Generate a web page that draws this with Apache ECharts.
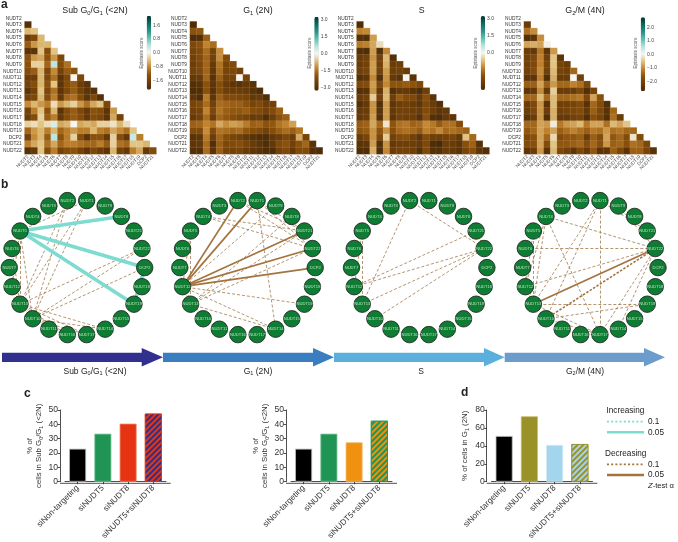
<!DOCTYPE html>
<html><head><meta charset="utf-8">
<style>html,body{margin:0;padding:0;background:#fff}#c{width:678px;height:542px}</style>
<script src="https://cdn.jsdelivr.net/npm/echarts@6/dist/echarts.min.js"></script>
</head><body><div id="c"></div>
<script>
var rowLabels=['NUDT2','NUDT3','NUDT4','NUDT5','NUDT6','NUDT7','NUDT8','NUDT9','NUDT10','NUDT11','NUDT12','NUDT13','NUDT14','NUDT15','NUDT16','NUDT17','NUDT18','NUDT19','DCP2','NUDT21','NUDT22'];
var colLabels=['NUDT2','NUDT3','NUDT4','NUDT5','NUDT6','NUDT7','NUDT8','NUDT9','NUDT10','NUDT11','NUDT12','NUDT13','NUDT14','NUDT15','NUDT16','NUDT17','NUDT18','NUDT19','DCP2','NUDT21'];
var heatSub=[[],
[-2.0],
[-.5,-.4],
[-1.7,-1.5,-.5],
[-1.2,-.7,-.5,-.5],
[-1.9,-1.9,-.4,-1.4,-.4],
[-1.3,-.7,-.6,-1.3,-.7,-1.5],
[-1.3,-.3,-.3,-1.1,.4,-1.4,-1.0],
[-1.4,-1.2,-.5,-1.5,-.8,-1.6,-1.2,-1.3],
[-1.7,-1.7,-.5,-1.5,-1.0,-1.9,-1.5,0,-1.5],
[-1.6,-1.4,-.5,-1.3,-.4,-1.9,-1.4,-1.2,-1.7,-1.9],
[-1.9,-1.6,-.4,-1.5,-1.0,-1.9,-1.5,-1.2,-1.6,-1.9,-2.0],
[-1.6,-1.5,-.5,-1.4,-.9,-1.8,-1.1,-1.0,-1.4,-1.9,-1.5,-2.0],
[-.8,-.5,-.7,-.9,-.2,-.7,-.5,-.3,-.7,-1.0,-.6,-.4,-1.5],
[-1.6,-.9,-.4,-1.3,-.5,-1.9,-1.4,-1.2,-1.5,-1.8,-1.3,-1.4,-1.9,-.7],
[-1.7,-1.4,-.3,-1.2,-.9,-1.8,-1.4,-1.2,-1.4,-1.8,-1.4,-1.5,-1.9,-.6,-1.6],
[-.3,-.2,-.4,-.2,.2,-.6,-.5,0,-.6,-.5,-.6,-.3,-.3,-.15,-.5,-.2],
[-1.1,-.7,-.5,-.9,-.5,-1.1,-.9,-.7,-.9,-.9,-.5,-.9,-1.0,-.6,-.8,-1.0,-.4],
[-1.6,-.8,-.5,-1.2,.4,-1.3,-.9,-.3,-1.4,-1.9,-1.3,-1.3,-1.8,-.3,-1.4,-1.8,.3,-.9],
[-.9,-.6,-.4,-1.0,-.6,-1.1,-.9,-.9,-1.0,-1.1,-1.1,-.9,-1.2,-.3,-1.0,-1.1,-.4,-.4,-.5],
[-2.0,-1.8,-.4,-1.4,-.9,-1.6,-1.4,-1.3,-1.6,-1.9,-1.5,-1.7,-1.9,-.5,-1.6,-1.8,-.9,-.6,-1.8,-1.4]];
var heatG1=[[],
[-3.2],
[-2.0,-1.9],
[-3.2,-3.1,-1.8],
[-2.3,-2.0,-1.3,-1.6],
[-2.4,-2.2,-1.6,-2.4,-1.2],
[-2.5,-2.2,-1.7,-2.5,-1.2,-2.2],
[-2.6,-2.3,-1.7,-2.7,-1.5,-2.4,-2.2],
[-2.5,-2.3,-1.7,-2.8,-1.6,-2.4,-2.3,-2.5],
[-2.8,-2.7,-1.7,-3.0,-1.8,-2.5,-2.4,0,-2.4],
[-3.1,-3.0,-2.0,-2.9,-2.1,-2.7,-2.9,-3.0,-2.8,-3.0],
[-3.2,-3.1,-2.0,-3.0,-2.1,-2.6,-2.6,-2.6,-2.7,-3.0,-3.2],
[-2.9,-3.2,-1.4,-2.9,-1.8,-2.2,-2.2,-2.3,-2.4,-2.8,-2.7,-3.1],
[-2.4,-2.2,-1.6,-2.5,-1.6,-1.7,-1.8,-1.8,-2.0,-2.4,-2.2,-2.6,-2.5],
[-2.5,-2.4,-1.3,-2.3,-1.5,-1.8,-1.9,-1.9,-1.8,-2.1,-2.2,-2.5,-2.2,-1.8],
[-2.7,-2.5,-1.6,-2.6,-1.7,-1.9,-2.1,-2.3,-2.4,-2.7,-2.6,-3.1,-2.6,-2.0,-1.8],
[-1.8,-1.7,-1.3,-1.5,-.9,-1.2,-1.0,-1.1,-1.4,-1.8,-1.7,-2.0,-1.9,-1.5,-1.3,-1.0],
[-2.2,-2.2,-1.2,-2.2,-1.5,-1.6,-1.7,-1.6,-1.9,-2.1,-2.2,-2.5,-2.1,-1.8,-1.6,-1.8,-1.5],
[-3.0,-2.9,-1.4,-2.6,-1.7,-2.1,-2.4,-2.5,-2.8,-3.0,-3.1,-3.2,-2.8,-2.6,-2.3,-2.6,-.9,-2.4],
[-2.9,-2.8,-1.6,-3.1,-1.8,-2.3,-2.2,-2.1,-2.4,-2.7,-2.9,-3.2,-2.8,-2.2,-2.0,-2.5,-2.0,-1.7,-3.0],
[-3.1,-3.1,-1.6,-3.0,-1.8,-2.4,-2.5,-2.4,-2.7,-2.9,-3.0,-3.2,-3.2,-2.5,-2.3,-2.8,-2.2,-2.2,-3.1,-3.2]];
var heatS=[[],
[-3.1],
[-1.3,-1.2],
[-3.0,-3.0,-1.0],
[-1.4,-1.3,-.9,-.3],
[-3.0,-3.1,-1.0,-3.0,-1.2],
[-2.6,-2.4,-1.1,-2.4,-.7,-3.0],
[-2.6,-2.4,-1.0,-2.4,-.8,-2.6,-2.5],
[-2.5,-2.3,-1.0,-2.4,-1.0,-2.5,-2.4,-2.6],
[-3.0,-2.8,-1.2,-3.0,-1.1,-2.7,-2.9,0,-2.9],
[-2.2,-2.1,-1.0,-2.2,-1.2,-1.9,-1.9,-1.8,-1.9,-2.2],
[-3.0,-2.9,-1.1,-2.7,-.8,-3.0,-2.7,-2.7,-2.9,-3.1,-2.5],
[-2.6,-2.4,-.5,-2.4,-.7,-2.5,-1.8,-2.1,-2.2,-2.7,-2.0,-2.9],
[-3.0,-2.7,-1.1,-3.0,-1.0,-2.8,-2.5,-2.4,-2.6,-2.8,-2.2,-2.6,-3.0],
[-2.7,-2.6,-1.1,-2.9,-1.0,-2.7,-2.4,-2.4,-2.5,-2.6,-2.1,-2.5,-2.8,-2.7],
[-2.7,-2.5,-1.0,-3.0,-1.0,-2.8,-2.4,-2.5,-2.5,-2.9,-2.0,-3.0,-3.1,-2.7,-2.8],
[-1.8,-1.7,-.9,-1.6,-.2,-1.9,-1.5,-1.4,-1.7,-1.6,-1.2,-1.4,-1.8,-1.5,-1.5,-2.1],
[-1.9,-1.8,-1.1,-1.9,-1.1,-2.0,-1.6,-1.5,-1.6,-1.8,-1.3,-1.5,-1.2,-1.6,-1.5,-1.6,-1.7],
[-2.6,-2.3,-1.1,-2.2,-.5,-2.4,-2.1,-2.0,-2.4,-2.8,-2.1,-2.5,-2.5,-2.4,-2.3,-2.7,-.6,-1.6],
[-2.9,-2.8,-1.0,-3.0,-1.1,-2.7,-2.5,-2.5,-2.5,-2.7,-2.2,-3.1,-3.2,-2.5,-2.6,-2.8,-2.0,-1.7,-2.9],
[-3.1,-3.1,-.8,-3.1,-1.2,-2.6,-2.4,-2.4,-2.5,-3.0,-2.2,-3.0,-3.0,-2.6,-2.7,-2.9,-2.3,-2.0,-2.8,-3.0]];
var heatG2=[[],
[-2.2],
[-1.3,-1.0],
[-2.6,-2.4,-1.0],
[-.8,-.7,-.8,-.05],
[-2.2,-2.3,-1.2,-2.4,-.9],
[-2.1,-1.9,-1.1,-2.1,-.5,-2.4],
[-2.1,-1.9,-1.1,-2.0,-.5,-2.0,-2.2],
[-2.1,-1.8,-1.0,-2.1,-.6,-2.0,-2.1,-1.4],
[-2.4,-2.4,-1.1,-2.6,-.7,-2.2,-2.2,0,-2.1],
[-1.5,-1.5,-.8,-1.5,-.9,-1.4,-1.4,-1.1,-1.3,-1.9],
[-2.4,-2.3,-1.0,-2.3,-.4,-2.2,-2.2,-2.2,-1.9,-2.6,-2.0],
[-1.4,-1.4,-.6,-1.4,-.6,-1.4,-1.4,-1.3,-1.2,-1.9,-.8,-1.7],
[-2.2,-1.9,-.9,-2.5,-.6,-2.1,-2.1,-2.0,-1.8,-2.5,-1.4,-1.8,-2.6],
[-2.2,-1.9,-.9,-2.2,-.7,-2.1,-2.0,-1.9,-1.8,-2.3,-1.5,-1.9,-2.5,-1.4],
[-2.5,-2.2,-.9,-2.6,-.7,-2.3,-2.3,-2.1,-2.0,-2.6,-1.7,-2.0,-2.6,-1.3,-2.2],
[-1.4,-1.4,-.8,-.9,-.1,-1.2,-.9,-.8,-.6,-1.2,-.8,-.8,-1.3,-.6,-.8,-.5],
[-1.6,-1.4,-.8,-1.1,-.8,-1.5,-1.3,-1.1,-1.3,-1.5,-1.2,-1.3,-.9,-1.3,-1.2,-1.4,-1.4],
[-1.9,-1.7,-.8,-1.4,-.3,-1.8,-1.6,-1.6,-1.5,-2.2,-1.5,-1.8,-.8,-1.6,-1.4,-1.8,-.2,-1.8],
[-1.8,-1.7,-.8,-1.8,-.5,-1.6,-1.6,-1.5,-1.4,-1.8,-1.4,-1.7,-.9,-1.5,-1.4,-1.7,-1.3,-1.4,-1.9],
[-2.4,-2.2,-.9,-2.5,-.6,-1.9,-2.1,-2.4,-1.9,-2.3,-1.6,-2.5,-2.4,-1.5,-1.9,-2.5,-1.5,-1.5,-2.0,-2.5]];
var scaleLimits=[2.15,3.3,3.2,2.75];
var scaleTicks=[[1.6,0.8,0,-0.8,-1.6],[3,1.5,0,-1.5,-3],[3,1.5,0],[2,1,0,-1,-2]];
var networkNodes=['DCP2','NUDT18','NUDT19','NUDT15','NUDT14','NUDT17','NUDT16','NUDT11','NUDT10','NUDT13','NUDT12','NUDT7','NUDT6','NUDT5','NUDT4','NUDT3','NUDT2','NUDT1','NUDT9','NUDT8','NUDT21','NUDT22'];
var subSolid=[['NUDT5','NUDT8'],['NUDT5','DCP2'],['NUDT5','NUDT19'],['DCP2','NUDT19']];
var subDashed=[['NUDT5','NUDT12'],['NUDT5','NUDT13'],['NUDT5','NUDT10'],['NUDT6','NUDT13'],['NUDT7','NUDT13'],['NUDT12','NUDT13'],['NUDT13','NUDT10'],['NUDT2','NUDT13'],['NUDT2','NUDT10'],['NUDT1','NUDT13'],['NUDT1','NUDT10'],['NUDT5','NUDT1'],['NUDT22','NUDT13'],['NUDT22','NUDT10'],['DCP2','NUDT10'],['NUDT13','NUDT14'],['NUDT13','NUDT17'],['NUDT13','NUDT16'],['NUDT13','NUDT11'],['NUDT10','NUDT14'],['NUDT10','NUDT17'],['NUDT10','NUDT16'],['NUDT10','NUDT11'],['NUDT11','NUDT16'],['NUDT8','NUDT21'],['NUDT14','NUDT15']];
var g1Solid=[['NUDT12','NUDT2'],['NUDT12','NUDT1'],['NUDT12','NUDT21'],['NUDT12','NUDT22'],['NUDT12','DCP2']];
var g1Dashed=[['NUDT5','NUDT12'],['NUDT5','NUDT13'],['NUDT4','NUDT21'],['NUDT4','NUDT22'],['NUDT3','NUDT4'],['NUDT2','NUDT21'],['NUDT1','NUDT21'],['NUDT1','NUDT14'],['NUDT9','NUDT12'],['NUDT8','NUDT13'],['NUDT2','NUDT22'],['NUDT12','NUDT14'],['NUDT13','NUDT14'],['NUDT12','NUDT10'],['NUDT13','NUDT10'],['NUDT12','NUDT13'],['NUDT10','NUDT11'],['NUDT7','NUDT12'],['NUDT14','NUDT17'],['NUDT13','NUDT22'],['NUDT12','NUDT19'],['NUDT1','NUDT22'],['NUDT13','NUDT21'],['NUDT11','NUDT16']];
var sSolid=[];
var sDashed=[['NUDT2','NUDT13'],['NUDT5','NUDT12'],['NUDT5','NUDT13'],['NUDT7','NUDT12'],['NUDT12','NUDT13'],['NUDT12','NUDT21'],['NUDT12','NUDT22'],['NUDT13','NUDT22'],['NUDT10','NUDT22'],['NUDT21','NUDT22'],['NUDT2','NUDT22'],['NUDT10','NUDT11'],['NUDT11','NUDT16'],['NUDT16','NUDT17'],['NUDT13','NUDT10']];
var g2Solid=[['NUDT13','NUDT22']];
var g2Dotted=[['NUDT10','NUDT22']];
var g2Dashed=[['NUDT4','NUDT22'],['NUDT6','NUDT22'],['NUDT12','NUDT22'],['NUDT13','NUDT1'],['NUDT10','NUDT1'],['NUDT1','NUDT17'],['NUDT4','NUDT17'],['NUDT4','NUDT13'],['NUDT4','NUDT12'],['NUDT5','NUDT12'],['NUDT5','NUDT13'],['NUDT2','NUDT3'],['NUDT3','NUDT4'],['NUDT8','NUDT21'],['NUDT9','NUDT8'],['NUDT1','NUDT21'],['NUDT21','NUDT22'],['NUDT9','NUDT22'],['NUDT13','NUDT19'],['NUDT10','NUDT19'],['NUDT13','NUDT10'],['NUDT13','NUDT17'],['NUDT10','NUDT17'],['NUDT10','NUDT11'],['NUDT11','NUDT16'],['NUDT16','NUDT17'],['NUDT17','NUDT22'],['NUDT12','NUDT13'],['NUDT7','NUDT13'],['NUDT14','NUDT22']];
var barCats=['siNon-targeting','siNUDT5','siNUDT8','siNUDT5+siNUDT8'];
var barC1=[23,33.5,40.5,47.5];
var barC2=[23,33.5,27.5,42.5];
var barD=[51,73,41,42];

var FONT='"Liberation Sans",Arial,sans-serif';
var brbg=['#4a2a06','#6b3c07','#8c510a','#bf812d','#e0c07c','#f7f5ef','#b7e4dd','#5fc0b2','#2a9186','#0b6a60','#00352b'];
var heatBoxes=[23.7,190,356.7,524];
var cbX=[146.7,314.3,480.7,640.7];
var cbTop=[15.7,16.7,16,17.3];
var scoreX=[141.7,310,475.7,635.7];
var heats=[heatSub,heatG1,heatS,heatG2];
var option={animation:false,backgroundColor:'#fff',textStyle:{fontFamily:FONT},title:[],grid:[],polar:[],angleAxis:[],radiusAxis:[],xAxis:[],yAxis:[],series:[],visualMap:[],graphic:[]};

function addTitle(t,x,y,size){option.title.push({text:t,left:x,top:y,textAlign:'center',padding:0,textStyle:{fontFamily:FONT,fontSize:size,fontWeight:'normal',color:'#222',rich:{s:{fontSize:size*0.65,fontFamily:FONT,color:'#222',verticalAlign:'bottom',padding:[4,0,0,0]}}}});}
addTitle('Sub G{s|0}/G{s|1} (<2N)',95,6,8.8);
addTitle('G{s|1} (2N)',258,6,8.8);
addTitle('S',421.7,6,8.8);
addTitle('G{s|2}/M (4N)',585,6,8.8);

heats.forEach(function(h,p){
  var gi=option.grid.length;
  option.grid.push({left:heatBoxes[p],top:14.9,width:132.6,height:139.2});
  option.xAxis.push({type:'category',gridIndex:gi,data:colLabels,axisLine:{show:false},axisTick:{show:false},splitLine:{show:false},axisLabel:{interval:0,rotate:45,fontSize:4.6,color:'#444',margin:2,fontFamily:FONT}});
  option.yAxis.push({type:'category',gridIndex:gi,inverse:true,data:rowLabels,axisLine:{show:false},axisTick:{show:false},splitLine:{show:false},axisLabel:{interval:0,fontSize:4.8,color:'#333',margin:3,fontFamily:FONT,padding:[3,0,0,0]}});
  var d=[];
  h.forEach(function(r,i){r.forEach(function(v,j){d.push([j,i,v]);});});
  option.series.push({type:'heatmap',xAxisIndex:gi,yAxisIndex:gi,data:d,itemStyle:{borderColor:'rgba(255,255,255,0.3)',borderWidth:0.3},emphasis:{disabled:true}});
  option.visualMap.push({type:'continuous',seriesIndex:option.series.length-1,min:-scaleLimits[p],max:scaleLimits[p],inRange:{color:brbg},left:cbX[p],top:cbTop[p],itemWidth:4.4,itemHeight:74,padding:0,calculable:false,text:null,show:true,showLabel:false,dimension:2});
  var gb=option.grid.length;
  option.grid.push({left:cbX[p],top:cbTop[p],width:4.4,height:74});
  option.xAxis.push({type:'value',gridIndex:gb,show:false,min:0,max:1});
  option.yAxis.push({type:'value',gridIndex:gb,position:'right',min:-scaleLimits[p],max:scaleLimits[p],splitLine:{show:false},axisLine:{show:false},
    axisTick:{show:false,customValues:scaleTicks[p]},
    axisLabel:{customValues:scaleTicks[p],fontSize:5,color:'#444',margin:2,fontFamily:FONT,formatter:function(v){return (v<0?'\u2212':'')+Math.abs(v).toFixed(1);}}});
  option.series.push({type:'line',xAxisIndex:gb,yAxisIndex:gb,data:[],silent:true,showSymbol:false});
  option.graphic.push({type:'text',silent:true,x:scoreX[p],y:53,rotation:Math.PI/2,style:{text:'Epistasis score',fontFamily:FONT,fontSize:4.6,fill:'#555',textAlign:'center',textVerticalAlign:'middle'}});
});

var nets=[
 {x:77,solid:subSolid,dashed:subDashed,dotted:[],color:'#7edbd0',width:3.6},
 {x:247.5,solid:g1Solid,dashed:g1Dashed,dotted:[],color:'#a3743f',width:1.7},
 {x:419.2,solid:sSolid,dashed:sDashed,dotted:[],color:'#a3743f',width:1.7},
 {x:590.3,solid:g2Solid,dashed:g2Dashed,dotted:g2Dotted,color:'#a3743f',width:1.7}];
nets.forEach(function(n,pi){
  option.polar.push({center:[n.x,267.6],radius:67.7});
  option.angleAxis.push({polarIndex:pi,type:'value',min:0,max:networkNodes.length,startAngle:0,clockwise:true,show:false});
  option.radiusAxis.push({polarIndex:pi,type:'value',min:0,max:1,show:false});
  var links=[];
  n.dashed.forEach(function(e){links.push({source:e[0],target:e[1],lineStyle:{color:'#a07a4c',width:0.8,type:[3,2],opacity:1}});});
  n.dotted.forEach(function(e){links.push({source:e[0],target:e[1],lineStyle:{color:'#a3743f',width:1.6,type:[2.5,1.5],opacity:1}});});
  n.solid.forEach(function(e){links.push({source:e[0],target:e[1],lineStyle:{color:n.color,width:n.width,opacity:1}});});
  option.series.push({type:'graph',coordinateSystem:'polar',polarIndex:pi,roam:false,silent:true,symbol:'circle',symbolSize:16.5,
    data:networkNodes.map(function(k,i){return {name:k,value:[1,i]};}),links:links,
    itemStyle:{color:'#0e7d33',borderColor:'#1a1a1a',borderWidth:0.8},
    label:{show:true,position:'inside',fontSize:4.1,color:'#bfe3c4',fontFamily:FONT,formatter:'{b}'},
    lineStyle:{curveness:0},emphasis:{disabled:true}});
});

function arrow(x0,x1,xh,col){return {type:'polygon',z:5,silent:true,shape:{points:[[x0,352.7],[xh,352.7],[xh,348],[x1,357.3],[xh,366.6],[xh,362],[x0,362]]},style:{fill:col}};}
option.graphic.push(arrow(2,163,141.7,'#32308f'),arrow(163,334,313,'#3a7dc0'),arrow(334,504.7,484,'#5aafdc'),arrow(504.7,665,644,'#6c9ccb'));
function gtext(t,x,y,size,extra){var st={text:t,fill:'#222',fontFamily:FONT,fontSize:size,textAlign:'center',textVerticalAlign:'middle',rich:{s:{fontSize:size*0.65,fill:'#222',fontFamily:FONT,verticalAlign:'bottom',padding:[3,0,0,0]},i:{fontSize:size,fontStyle:'italic',fill:'#222',fontFamily:FONT}}};for(var k in extra)st[k]=extra[k];return {type:'text',z:6,silent:true,x:x,y:y,style:st};}
option.graphic.push(gtext('Sub G{s|0}/G{s|1} (<2N)',95,372,8.5),gtext('G{s|1} (2N)',258,372,8.5),gtext('S',421,372,8.5),gtext('G{s|2}/M (4N)',585,372,8.5));
var B={fontWeight:'bold',textAlign:'left'};
option.graphic.push(gtext('a',1,5,12,B),gtext('b',1,185,12,B),gtext('c',24,394,12,B),gtext('d',461,393,12,B));

var barSets=[
 {axisX:60,left:65,vals:barC1,max:50,interval:10,end:170.7,colors:['#000','#1f9454','#e63312','#e63312'],edges:['#bbb','#7cc79a','#f08a70','#e63312'],decal:'#2f2f86',name:'% of\ncells in Sub G{s|0}/G{s|1} (<2N)',gap:16},
 {axisX:286,left:291,vals:barC2,max:50,interval:10,end:397,colors:['#000','#1f9454','#f0920f','#1f9454'],edges:['#bbb','#7cc79a','#f0c080','#1f9454'],decal:'#f0920f',name:'% of\ncells in Sub G{s|0}/G{s|1} (<2N)',gap:16},
 {axisX:486.7,left:491.5,vals:barD,max:80,interval:20,end:597.3,colors:['#000','#9a9228','#a3d5ee','#9a9228'],edges:['#bbb','#c4bc70','#cfe8f5','#9a9228'],decal:'#a3d5ee',name:'% of cells in G{s|1} (2N)',gap:17}];
barSets.forEach(function(b){
  var gi=option.grid.length;
  option.grid.push({left:b.left,top:410,width:101,height:73.3});
  option.xAxis.push({type:'category',gridIndex:gi,data:barCats,axisLine:{lineStyle:{color:'#222',width:0.8}},axisTick:{show:true,alignWithLabel:true,length:2.5,lineStyle:{color:'#222',width:0.8}},axisLabel:{interval:0,rotate:45,fontSize:8.2,color:'#333',margin:5,fontFamily:FONT}});
  option.yAxis.push({type:'value',gridIndex:gi,min:0,max:b.max,interval:b.interval,offset:b.left-b.axisX,splitLine:{show:false},axisLine:{show:true,lineStyle:{color:'#222',width:0.8}},axisTick:{show:true,length:2.5,lineStyle:{color:'#222',width:0.8}},axisLabel:{fontSize:8.6,color:'#333',margin:2,fontFamily:FONT},
    name:b.name,nameLocation:'middle',nameGap:b.gap,nameRotate:90,nameTextStyle:{fontSize:7.8,color:'#333',fontFamily:FONT,lineHeight:9.5,rich:{s:{fontSize:5.4,color:'#333',fontFamily:FONT,verticalAlign:'bottom',padding:[3,0,0,0]}}}});
  var d=b.vals.map(function(v,i){var it={value:v,itemStyle:{color:b.colors[i],borderColor:b.edges[i],borderWidth:0.8}};
    if(i===3){it.itemStyle.decal={color:b.decal,symbol:'rect',dashArrayX:[1,0],dashArrayY:[2,2],rotation:-Math.PI/4,symbolSize:1};}
    return it;});
  option.series.push({type:'bar',xAxisIndex:gi,yAxisIndex:gi,barWidth:17,data:d,silent:true});
  option.graphic.push({type:'line',z:1,silent:true,shape:{x1:b.axisX,y1:483.3,x2:b.end,y2:483.3},style:{stroke:'#222',lineWidth:0.8}});
});

function keyLine(y,col,dash,w){return {type:'line',z:5,silent:true,shape:{x1:607,y1:y,x2:644,y2:y},style:{stroke:col,lineWidth:w,lineDash:dash}};}
var L={textAlign:'left'};
option.graphic.push(
 gtext('Increasing',606.5,411,8.2,L),
 keyLine(421.7,'#7edbd0',[2,2.2],1.8),gtext('0.1',648,421.7,8.2,L),
 keyLine(432.3,'#7edbd0',null,2.4),gtext('0.05',648,432.3,8.2,L),
 gtext('Decreasing',605,453.7,8.2,L),
 keyLine(464.3,'#a3743f',[2,2.2],1.8),gtext('0.1',648,464.3,8.2,L),
 keyLine(475,'#a3743f',null,2.4),gtext('0.05',648,475,8.2,L),
 gtext('{i|Z}-test \u03b1',648,486,7.6,L));

var chart=echarts.init(document.getElementById('c'),null,{renderer:'canvas'});
chart.setOption(option);
</script></body></html>
